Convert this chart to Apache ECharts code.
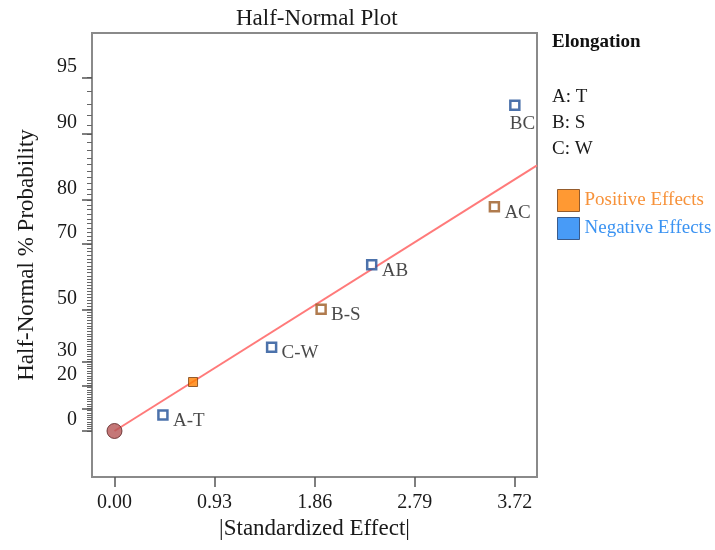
<!DOCTYPE html>
<html>
<head>
<meta charset="utf-8">
<script src="https://cdn.jsdelivr.net/npm/echarts@6/dist/echarts.min.js"></script>
<style>html,body{margin:0;padding:0;background:#fff;}#chart{width:715px;height:550px;}</style>
</head>
<body>
<div id="chart"></div>
<script>
// ---- data ----
const effectNames = ['A-T', '', 'C-W', 'B-S', 'AB', 'AC', 'BC'];
const effectSizes = [0.45, 0.73, 1.46, 1.92, 2.39, 3.53, 3.72];      // |Standardized Effect|
const effectProb  = [7.1, 21.4, 35.7, 50.0, 64.3, 78.6, 92.9];       // Half-Normal % Probability
const effectSign  = ['neg', 'pos', 'neg', 'pos', 'neg', 'pos', 'neg'];
const effectSelected = [true, false, true, true, true, true, true];
const originPoint = [0, 0];
const fitLineX = [0, 3.926];
const fitLineProb = [0, 85.9];
const xTickValues = [0, 0.93, 1.86, 2.79, 3.72];
const yMajorTicks = [0, 10, 20, 30, 50, 70, 80, 90, 95];
const yLabelTicks = [0, 20, 30, 50, 70, 80, 90, 95];
const factorLines = ['A: T', 'B: S', 'C: W'];

// half-normal probability scale: percent -> normal quantile of (0.5 + p/2)
function invNorm(p) {
  const a = [-3.969683028665376e+01, 2.209460984245205e+02, -2.759285104469687e+02, 1.383577518672690e+02, -3.066479806614716e+01, 2.506628277459239e+00];
  const b = [-5.447609879822406e+01, 1.615858368580409e+02, -1.556989798598866e+02, 6.680131188771972e+01, -1.328068155288572e+01];
  const c = [-7.784894002430293e-03, -3.223964580411365e-01, -2.400758277161838e+00, -2.549732539343734e+00, 4.374664141464968e+00, 2.938163982698783e+00];
  const d = [7.784695709041462e-03, 3.224671290700398e-01, 2.445134137142996e+00, 3.754408661907416e+00];
  const pl = 0.02425, ph = 1 - pl;
  let q, r;
  if (p < pl) { q = Math.sqrt(-2 * Math.log(p)); return (((((c[0]*q+c[1])*q+c[2])*q+c[3])*q+c[4])*q+c[5]) / ((((d[0]*q+d[1])*q+d[2])*q+d[3])*q+1); }
  if (p <= ph) { q = p - 0.5; r = q*q; return (((((a[0]*r+a[1])*r+a[2])*r+a[3])*r+a[4])*r+a[5])*q / (((((b[0]*r+b[1])*r+b[2])*r+b[3])*r+b[4])*r+1); }
  q = Math.sqrt(-2 * Math.log(1 - p)); return -(((((c[0]*q+c[1])*q+c[2])*q+c[3])*q+c[4])*q+c[5]) / ((((d[0]*q+d[1])*q+d[2])*q+d[3])*q+1);
}
function toZ(pct) { return pct <= 0 ? 0 : invNorm(0.5 + pct / 200); }

const FONT = 'Liberation Serif';
const BLUE_EDGE = '#1f4f96', BROWN_EDGE = '#9c5a22', ORANGE = '#ff8000';

const yMinorTicks = [];
for (let v = 0; v <= 95; v++) yMinorTicks.push(v);

function pointData(sign) {
  const out = [];
  effectNames.forEach((n, i) => {
    if (effectSign[i] !== sign) return;
    const sel = effectSelected[i];
    const edge = sign === 'pos' ? BROWN_EDGE : BLUE_EDGE;
    out.push({
      name: n,
      value: [effectSizes[i], toZ(effectProb[i])],
      symbolSize: 9,
      itemStyle: sel ? { color: '#fff', borderColor: edge, borderWidth: 2.5 }
                     : { color: sign === 'pos' ? ORANGE : '#0080ff', borderColor: '#7a4010', borderWidth: 1 },
      label: n === 'BC' ? { offset: [-5, 19] } : {}
    });
  });
  return out;
}

const labelStyle = {
  show: true, position: 'inside', align: 'left', verticalAlign: 'middle',
  offset: [10, 6], formatter: p => p.name, fontFamily: FONT, fontSize: 19, color: '#1a1a1a'
};

const yMin = -0.255, yMax = 2.206;
const chart = echarts.init(document.getElementById('chart'), null, { renderer: 'canvas' });
chart.setOption({
  animation: false,
  backgroundColor: '#fff',
  title: {
    text: 'Half-Normal Plot', left: 231, top: 2,
    textStyle: { fontFamily: FONT, fontSize: 23, fontWeight: 'normal', color: '#1a1a1a' }
  },
  grid: { left: 92, top: 33, right: 178, bottom: 73, show: true, borderColor: '#8a8a8a', borderWidth: 2, backgroundColor: 'transparent' },
  xAxis: {
    type: 'value', min: -0.209, max: 3.926,
    name: '|Standardized Effect|', nameLocation: 'middle', nameGap: 31,
    nameTextStyle: { fontFamily: FONT, fontSize: 23, color: '#1a1a1a' },
    axisLine: { show: true, onZero: false, lineStyle: { color: '#8a8a8a', width: 2 } },
    axisTick: { show: true, inside: false, length: 10, lineStyle: { color: '#555', width: 1.5 }, customValues: xTickValues },
    axisLabel: { margin: 16, fontFamily: FONT, fontSize: 20, color: '#1a1a1a', customValues: xTickValues, formatter: v => v.toFixed(2) },
    splitLine: { show: false }
  },
  yAxis: [{
    type: 'value', min: yMin, max: yMax, position: 'left',
    axisLine: { show: true, onZero: false, lineStyle: { color: '#8a8a8a', width: 2 } },
    axisTick: { show: true, length: 5, lineStyle: { color: '#666', width: 1 }, customValues: yMinorTicks.map(toZ) },
    axisLabel: { show: false },
    splitLine: { show: false }
  }, {
    type: 'value', min: yMin, max: yMax, position: 'left', offset: 0,
    name: 'Half-Normal % Probability', nameLocation: 'middle', nameGap: 54,
    nameTextStyle: { fontFamily: FONT, fontSize: 23, color: '#1a1a1a' },
    axisLine: { show: true, onZero: false, lineStyle: { color: '#8a8a8a', width: 2 } },
    axisTick: { show: true, length: 10, lineStyle: { color: '#555', width: 1.5 }, customValues: yMajorTicks.map(toZ) },
    axisLabel: {
      margin: 15, fontFamily: FONT, fontSize: 20, color: '#1a1a1a', verticalAlign: 'bottom', lineHeight: 22,
      customValues: yLabelTicks.map(toZ),
      formatter: v => { let best = yLabelTicks[0]; yLabelTicks.forEach(t => { if (Math.abs(toZ(t) - v) < Math.abs(toZ(best) - v)) best = t; }); return String(best); }
    },
    splitLine: { show: false }
  }],
  legend: {
    orient: 'vertical', left: 557, top: 189, padding: 0, itemWidth: 22, itemHeight: 22, itemGap: 5,
    icon: 'rect', selectedMode: false,
    textStyle: { fontFamily: FONT, fontSize: 19 },
    data: [
      { name: 'Positive Effects', itemStyle: { color: ORANGE, borderColor: '#7a4010', borderWidth: 1 }, textStyle: { color: '#f7923a' } },
      { name: 'Negative Effects', itemStyle: { color: '#1a82f5', borderColor: '#1f3f70', borderWidth: 1 }, textStyle: { color: '#3b93f2' } }
    ]
  },
  graphic: [
    { type: 'text', left: 552, top: 33, style: { text: 'Elongation', font: 'bold 19px "Liberation Serif"', fill: '#111' } },
    { type: 'text', left: 552, top: 88, style: { text: factorLines[0], font: '19px "Liberation Serif"', fill: '#1a1a1a' } },
    { type: 'text', left: 552, top: 114, style: { text: factorLines[1], font: '19px "Liberation Serif"', fill: '#1a1a1a' } },
    { type: 'text', left: 552, top: 140, style: { text: factorLines[2], font: '19px "Liberation Serif"', fill: '#1a1a1a' } }
  ],
  series: [
    {
      type: 'line', name: 'fit', yAxisIndex: 0, showSymbol: false, symbol: 'none', clip: true, silent: true,
      lineStyle: { color: '#ff7a7a', width: 2 }, z: 1,
      data: fitLineX.map((x, i) => [x, toZ(fitLineProb[i])])
    },
    {
      type: 'scatter', name: 'origin', yAxisIndex: 0, symbol: 'circle', symbolSize: 15, z: 3,
      itemStyle: { color: '#b55555', borderColor: '#5a2020', borderWidth: 1 },
      data: [[originPoint[0], toZ(originPoint[1])]]
    },
    {
      type: 'scatter', name: 'Positive Effects', yAxisIndex: 0, symbol: 'rect', z: 4,
      itemStyle: { color: ORANGE }, label: labelStyle, data: pointData('pos')
    },
    {
      type: 'scatter', name: 'Negative Effects', yAxisIndex: 0, symbol: 'rect', z: 4,
      itemStyle: { color: '#1a82f5' }, label: labelStyle, data: pointData('neg')
    }
  ]
});
</script>
</body>
</html>
